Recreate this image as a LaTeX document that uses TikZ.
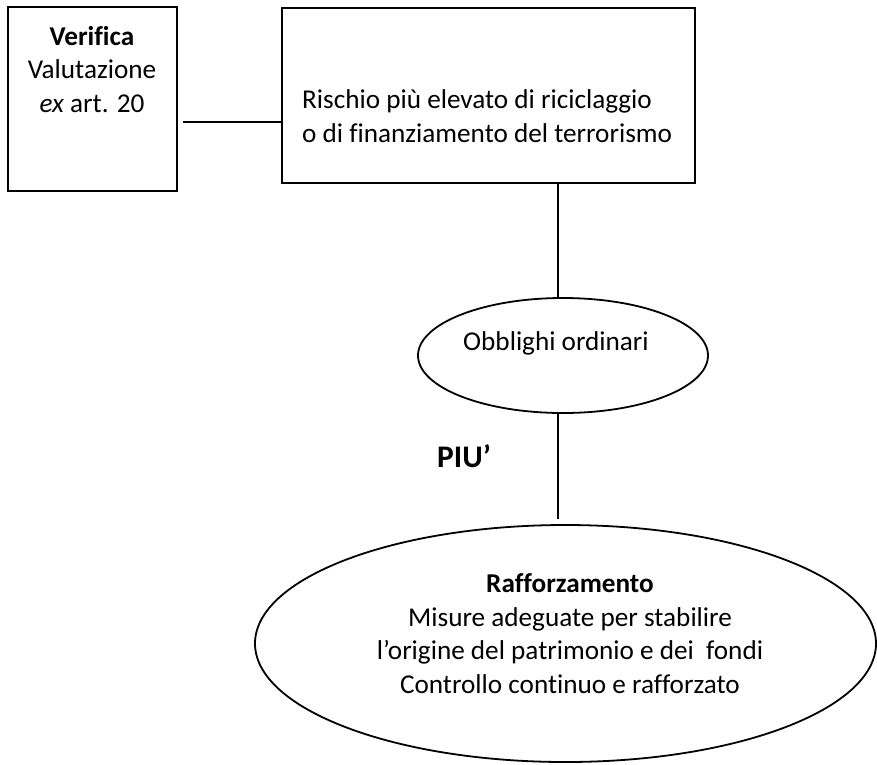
\documentclass[tikz,border=0pt]{standalone}
\usepackage{fontspec}
\setmainfont[Ligatures={NoCommon}]{Carlito}
\usetikzlibrary{shapes.geometric}

\tikzset{
  box/.style={draw, line width=1.8pt, rectangle, inner sep=0pt},
  oval/.style={draw, line width=1.8pt, ellipse, inner sep=0pt},
  txt/.style={font=\fontsize{27.2}{33.5}\selectfont, align=center, inner sep=0pt},
  link/.style={line width=1.8pt}
}

\begin{document}
\begin{tikzpicture}[x=1pt, y=-1pt]
\useasboundingbox (0,0) rectangle (877,764);

% Boxes
\node[box, minimum width=169pt, minimum height=184pt] (verifica) at (92.5,99) {};
\node[box, minimum width=413pt, minimum height=175pt] (rischio) at (488.5,95.5) {};

% Ellipses
\node[oval, minimum width=290pt, minimum height=115pt] (obblighi) at (563,355.5) {};
\node[oval, minimum width=621pt, minimum height=237pt] (rafforzamento) at (565.5,643.5) {};

% Connectors
\coordinate (hline) at (0,122);
\coordinate (vline) at (558,0);
\draw[link, shorten <=5pt] (verifica.east |- hline) -- (rischio.west |- hline);
\draw[link] (rischio.south -| vline) -- (obblighi.north -| vline);
\draw[link, shorten >=5pt] (obblighi.south -| vline) -- (rafforzamento.north -| vline);

% Texts (base = baseline of the last line)
\node[txt, anchor=base] (verificatxt) at (92,112) {\textbf{Verifica}\\Valutazione\\\textit{ex} art. 20};
\node[txt, align=left, anchor=base west] (rischiotxt) at (302,142) {Rischio più elevato di riciclaggio\\o di finanziamento del terrorismo};
\node[txt, anchor=base] (obbltxt) at (556,350) {Obblighi ordinari};
\node[txt, font=\bfseries\fontsize{31.4}{36}\selectfont, anchor=base west] (piu) at (437,467) {PIU’};
\node[txt, anchor=base] (raftxt) at (570,693) {\textbf{Rafforzamento}\\Misure adeguate per stabilire\\l’origine del patrimonio e dei\ \ fondi\\Controllo continuo e rafforzato};

\end{tikzpicture}
\end{document}
